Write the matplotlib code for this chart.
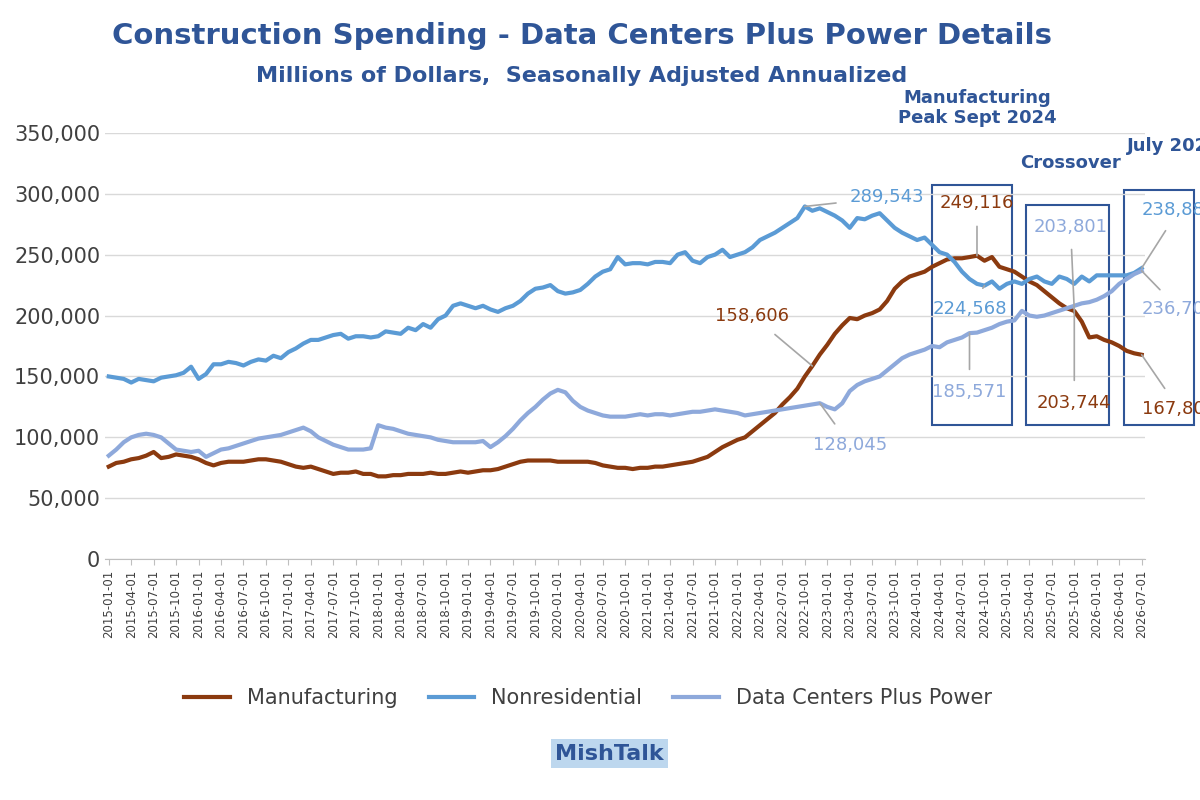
import matplotlib
matplotlib.use("Agg")
import matplotlib.pyplot as plt
import matplotlib.patches as patches
import pandas as pd

dates = pd.date_range("2015-01-01", "2026-07-01", freq="MS")

manufacturing = [
 76,79,80,82,83,85,88,83,84,86,85,84,
 82,79,77,79,80,80,80,81,82,82,81,80,
 78,76,75,76,74,72,70,71,71,72,70,70,
 68,68,69,69,70,70,70,71,70,70,71,72,
 71,72,73,73,74,76,78,80,81,81,81,81,
 80,80,80,80,80,79,77,76,75,75,74,75,
 75,76,76,77,78,79,80,82,84,88,92,95,
 98,100,105,110,115,120,127,133,140,150,158.606,168,
 176,185,192,198,197,200,202,205,212,222,228,232,
 234,236,240,243,246,247,247,248,249.116,245,248,240,
 238,236,232,228,225,220,215,210,206,203.744,195,182,
 183,180,178,175,171,169,167.805]
nonresidential = [
 150,149,148,145,148,147,146,149,150,151,153,158,
 148,152,160,160,162,161,159,162,164,163,167,165,
 170,173,177,180,180,182,184,185,181,183,183,182,
 183,187,186,185,190,188,193,190,197,200,208,210,
 208,206,208,205,203,206,208,212,218,222,223,225,
 220,218,219,221,226,232,236,238,248,242,243,243,
 242,244,244,243,250,252,245,243,248,250,254,248,
 250,252,256,262,265,268,272,276,280,289.543,286,288,
 285,282,278,272,280,279,282,284,278,272,268,265,
 262,264,258,252,250,244,236,230,226,224.568,228,222,
 226,228,226,230,232,228,226,232,230,226,232,228,
 233,233,233,233,233,235,238.888]
data_centers = [
 85,90,96,100,102,103,102,100,95,90,89,88,
 89,84,87,90,91,93,95,97,99,100,101,102,
 104,106,108,105,100,97,94,92,90,90,90,91,
 110,108,107,105,103,102,101,100,98,97,96,96,
 96,96,97,92,96,101,107,114,120,125,131,136,
 139,137,130,125,122,120,118,117,117,117,118,119,
 118,119,119,118,119,120,121,121,122,123,122,121,
 120,118,119,120,121,122,123,124,125,126,127,128.045,
 125,123,128,138,143,146,148,150,155,160,165,168,
 170,172,175,174,178,180,182,185.571,186,188,190,193,
 195,196,203.801,200,199,200,202,204,206,208,210,211,
 213,216,220,226,230,234,236.707]

c_man = "#8B3A0F"; c_non = "#5B9BD5"; c_dc = "#8EA9DB"; c_title = "#2F5597"

fig = plt.figure(figsize=(12, 8), dpi=100)
ax = fig.add_axes([0.0875, 0.301, 0.867, 0.533])
x = list(range(len(dates)))
ax.plot(x, [v*1000 for v in manufacturing], color=c_man, lw=3, label="Manufacturing")
ax.plot(x, [v*1000 for v in nonresidential], color=c_non, lw=3, label="Nonresidential")
ax.plot(x, [v*1000 for v in data_centers], color=c_dc, lw=3, label="Data Centers Plus Power")
ax.set_ylim(0, 350000)
ax.set_xlim(-0.5, 138.5)
ax.set_yticks(range(0, 350001, 50000))
ax.set_yticklabels([f"{v:,}" for v in range(0, 350001, 50000)], fontsize=15, color="#404040")
ticks = list(range(0, len(dates), 3))
ax.set_xticks(ticks)
ax.set_xticklabels([dates[i].strftime("%Y-%m-%d") for i in ticks], rotation=90, fontsize=8.5, color="#404040")
ax.grid(axis="y", color="#d9d9d9", lw=1)
for s in ["top", "right", "left"]:
    ax.spines[s].set_visible(False)
ax.spines["bottom"].set_color("#bfbfbf")
ax.tick_params(axis="y", length=0)
ax.tick_params(axis="x", length=4, color="#bfbfbf")

def ann(text, xi, yv, tx, ty, col):
    ax.annotate(text, (xi, yv*1000), xytext=(tx, ty*1000), color=col, fontsize=13,
                ha="center", va="center",
                arrowprops=dict(arrowstyle="-", color="#a6a6a6", lw=1.2, shrinkA=8, shrinkB=0))

ann("289,543", 93, 289.543, 104, 297, c_non)
ann("158,606", 94, 158.606, 86, 200, c_man)
ann("128,045", 95, 128.045, 99, 94, c_dc)
ann("249,116", 116, 249.116, 116, 292, c_man)
ann("224,568", 117, 224.568, 115, 205, c_non)
ann("185,571", 115, 185.571, 115, 137, c_dc)
ann("203,801", 129, 203.801, 128.5, 273, c_dc)
ann("203,744", 129, 203.744, 129, 128, c_man)
ann("238,888", 138, 238.888, 143, 287, c_non)
ann("236,707", 138, 236.707, 143, 205, c_dc)
ann("167,805", 138, 167.805, 143, 123, c_man)

for (x0, x1, y0, y1) in [(110, 120.7, 110, 307), (122.6, 133.6, 110, 291), (135.6, 145, 110, 303)]:
    ax.add_patch(patches.Rectangle((x0, y0*1000), x1-x0, (y1-y0)*1000, fill=False,
                                   ec=c_title, lw=1.5, clip_on=False))

ax.text(116, 355000, "Manufacturing\nPeak Sept 2024", color=c_title, fontsize=13,
        fontweight="bold", ha="center", va="bottom", linespacing=1.1)
ax.text(128.5, 318000, "Crossover", color=c_title, fontsize=13, fontweight="bold", ha="center", va="bottom")
ax.text(136, 332000, "July 2025", color=c_title, fontsize=13, fontweight="bold", ha="left", va="bottom", clip_on=False)

fig.text(0.485, 0.955, "Construction Spending - Data Centers Plus Power Details", color=c_title,
         fontsize=21, fontweight="bold", ha="center", va="center")
fig.text(0.485, 0.905, "Millions of Dollars,  Seasonally Adjusted Annualized", color=c_title,
         fontsize=16, fontweight="bold", ha="center", va="center")

fig.legend(loc="center", bbox_to_anchor=(0.49, 0.127), ncol=3, frameon=False, fontsize=15,
           handlelength=2.2, columnspacing=1.5, labelcolor="#404040")
fig.text(0.508, 0.058, "MishTalk", color=c_title, fontsize=16, fontweight="bold", ha="center",
         va="center", bbox=dict(boxstyle="square,pad=0.2", fc="#BDD7EE", ec="none"))

fig.savefig("out.png", dpi=100)
